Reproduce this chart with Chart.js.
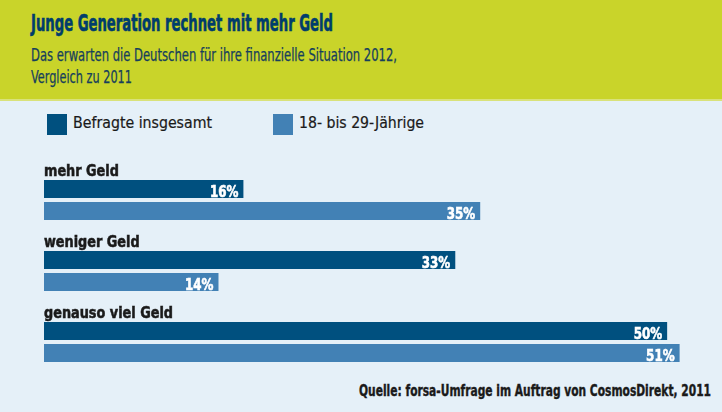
<!DOCTYPE html>
<html><head><meta charset="utf-8">
<script src="https://cdn.jsdelivr.net/npm/chart.js@4"></script>
<style>
html,body{margin:0;padding:0;}
body{width:722px;height:412px;position:relative;overflow:hidden;background:#e5f0f8;font-family:"DejaVu Sans Condensed","DejaVu Sans",sans-serif;}
#hdr{position:absolute;left:0;top:0;width:722px;height:99px;background:#c9d42a;border-bottom:2px solid #d9e27a;}
.txt{position:absolute;white-space:nowrap;display:inline-block;transform-origin:0 0;}
#title{left:31px;top:12.2px;font-weight:bold;font-size:23.7px;line-height:23.7px;color:#003d6c;-webkit-text-stroke:0.6px #003d6c;}
.sub{left:31px;font-size:17px;line-height:17px;color:#173f5c;-webkit-text-stroke:0.25px #173f5c;}
.legt{font-size:15.5px;line-height:15.5px;color:#1a1a1a;top:115.9px;-webkit-text-stroke:0.2px #1a1a1a;}
.box{position:absolute;top:114px;width:20px;height:21px;}
#src{left:359px;top:383.6px;font-weight:bold;font-size:15.5px;line-height:15.5px;color:#1a1a1a;-webkit-text-stroke:0.4px #1a1a1a;}
canvas{position:absolute;left:0;top:0;}
</style></head>
<body>
<div id="hdr"></div>
<div id="title" class="txt">Junge Generation rechnet mit mehr Geld</div>
<div id="sub1" class="txt sub" style="top:46.6px">Das erwarten die Deutschen für ihre finanzielle Situation 2012,</div>
<div id="sub2" class="txt sub" style="top:69.1px">Vergleich zu 2011</div>
<div id="legend"></div>
<div id="src" class="txt">Quelle: forsa-Umfrage im Auftrag von CosmosDirekt, 2011</div>
<canvas id="c" width="722" height="412"></canvas>
<script>
const categories = ["mehr Geld", "weniger Geld", "genauso viel Geld"];
const seriesNames = ["Befragte insgesamt", "18- bis 29-Jährige"];
const totalValues = [16, 33, 50];
const youngValues = [35, 14, 51];
const seriesColors = ["#00507f", "#4281b5"];

const FONT = '"DejaVu Sans Condensed","DejaVu Sans",sans-serif';

function fit(el, w) {
  const nat = el.getBoundingClientRect().width;
  el.style.transform = 'scaleX(' + (w / nat) + ')';
}

// legend (HTML, built from the series arrays)
const legendEl = document.getElementById('legend');
const legBoxX = [47, 273];
const legTextW = [139, 125];
seriesNames.forEach((n, i) => {
  const b = document.createElement('div');
  b.className = 'box';
  b.style.left = legBoxX[i] + 'px';
  b.style.background = seriesColors[i];
  legendEl.appendChild(b);
  const t = document.createElement('div');
  t.className = 'txt legt';
  t.style.left = (legBoxX[i] + 26) + 'px';
  t.textContent = n;
  legendEl.appendChild(t);
  fit(t, legTextW[i]);
});

fit(document.getElementById('title'), 302);
fit(document.getElementById('sub1'), 366);
fit(document.getElementById('sub2'), 101);
fit(document.getElementById('src'), 352);

function fittedText(ctx, text, x, y, sx, stroke) {
  ctx.save();
  ctx.translate(x, y);
  ctx.scale(sx, 1);
  ctx.fillText(text, 0, 0);
  if (stroke) { ctx.lineWidth = stroke; ctx.strokeText(text, 0, 0); }
  ctx.restore();
}

const labelPlugin = {
  id: 'labels',
  afterDatasetsDraw(chart) {
    const ctx = chart.ctx;
    ctx.save();
    // category labels above each group
    const meta0 = chart.getDatasetMeta(0);
    ctx.font = 'bold 15px ' + FONT;
    ctx.fillStyle = '#1a1a1a';
    ctx.strokeStyle = '#1a1a1a';
    ctx.textAlign = 'left';
    ctx.textBaseline = 'alphabetic';
    const catSx = 129 / ctx.measureText('genauso viel Geld').width;
    meta0.data.forEach((bar, i) => {
      const top = bar.y - bar.height / 2;
      fittedText(ctx, chart.data.labels[i], chart.chartArea.left, top - 4, catSx, 0.5);
    });
    // value labels
    ctx.font = 'bold 16px ' + FONT;
    ctx.fillStyle = '#ffffff';
    ctx.strokeStyle = '#ffffff';
    ctx.textAlign = 'right';
    const valSx = 28.5 / ctx.measureText('16%').width;
    chart.data.datasets.forEach((ds, di) => {
      chart.getDatasetMeta(di).data.forEach((bar, i) => {
        fittedText(ctx, ds.data[i] + '%', bar.x - 5, bar.y + bar.height / 2 - 1, valSx, 0.6);
      });
    });
    ctx.restore();
  }
};

new Chart(document.getElementById('c'), {
  type: 'bar',
  data: {
    labels: categories,
    datasets: [
      { label: seriesNames[0], data: totalValues, backgroundColor: seriesColors[0] },
      { label: seriesNames[1], data: youngValues, backgroundColor: seriesColors[1] }
    ]
  },
  options: {
    indexAxis: 'y',
    responsive: false,
    animation: false,
    events: [],
    categoryPercentage: 44 / 71,
    barPercentage: 18 / 22,
    layout: { padding: { left: 44, right: 5, top: 164.5, bottom: 34.5 } },
    scales: {
      x: { display: false, min: 0, max: 54 },
      y: { display: false }
    },
    plugins: { legend: { display: false }, tooltip: { enabled: false } }
  },
  plugins: [labelPlugin]
});
</script>
</body></html>
